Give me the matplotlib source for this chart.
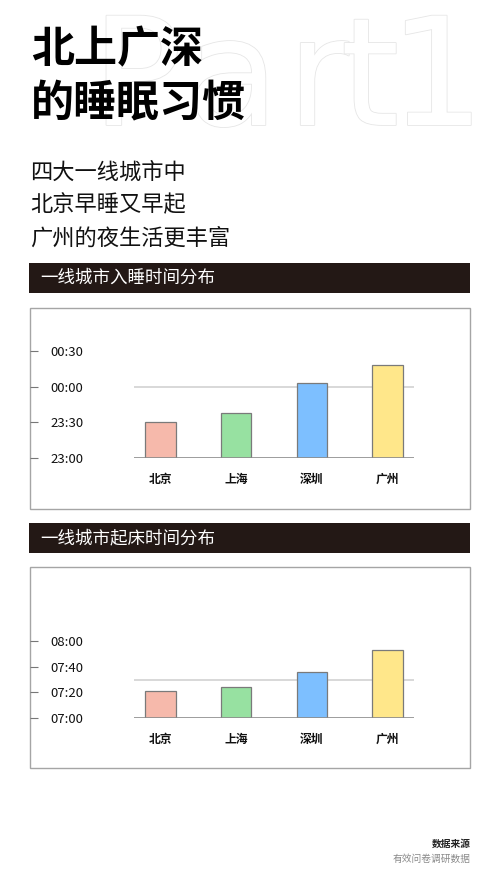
import matplotlib.pyplot as plt
from matplotlib.patches import Rectangle
import matplotlib.patheffects as pe

# --- 数据 ---
cities = ['北京', '上海', '深圳', '广州']
bar_colors = ['#f6b9ab', '#97e1a1', '#7dbfff', '#ffe78a']

# 入睡时间: 23:00 之后的分钟数
sleep_minutes = [30, 38, 63, 78]
sleep_ticks = [0, 30, 60, 90]
sleep_tick_labels = ['23:00', '23:30', '00:00', '00:30']
sleep_ref = 60

# 起床时间: 07:00 之后的分钟数
wake_minutes = [21, 24, 36, 53]
wake_ticks = [0, 20, 40, 60]
wake_tick_labels = ['07:00', '07:20', '07:40', '08:00']
wake_ref = 30

plt.rcParams['font.family'] = ['Noto Sans CJK SC', 'DejaVu Sans']

W, H = 500, 888
fig = plt.figure(figsize=(W / 100, H / 100), dpi=100)
fig.patch.set_facecolor('white')


def px(x0, y0, x1, y1):
    # 像素坐标 -> figure 坐标
    return [x0 / W, 1 - y1 / H, (x1 - x0) / W, (y1 - y0) / H]


# 背景层 (像素坐标)
bg = fig.add_axes([0, 0, 1, 1])
bg.set_xlim(0, W)
bg.set_ylim(H, 0)
bg.axis('off')

# 背景大字 Part1 (空心)
for ch, x in zip('Part1', [137, 233, 318, 370, 437]):
    bg.text(x, 125, ch, fontsize=108, family='DejaVu Sans',
            color='white', va='baseline', ha='center', zorder=1,
            path_effects=[pe.withStroke(linewidth=1.2, foreground='#e6e6e6')])

# 标题
bg.text(31, 49, '北上广深', fontsize=31, fontweight='bold', color='black',
        va='center', ha='left', zorder=3)
bg.text(31, 103, '的睡眠习惯', fontsize=31, fontweight='bold', color='black',
        va='center', ha='left', zorder=3)

# 副标题
for y, line in zip([172, 205, 238], ['四大一线城市中', '北京早睡又早起', '广州的夜生活更丰富']):
    bg.text(30, y, line, fontsize=16, color='#111111', va='center', ha='left')

# 标题条 + 边框
for top, title in [(263, '一线城市入睡时间分布'), (523, '一线城市起床时间分布')]:
    bg.add_patch(Rectangle((29, top), 441, 30, facecolor='#231815', edgecolor='none'))
    bg.text(40, top + 15, title, fontsize=12.6, color='white', va='center', ha='left')

bg.add_patch(Rectangle((30, 308), 440, 201, facecolor='white', edgecolor='#a5a5a5', lw=1))
bg.add_patch(Rectangle((30, 567), 440, 201, facecolor='white', edgecolor='#a5a5a5', lw=1))

# 数据来源
bg.text(471, 844, '数据来源', fontsize=7, fontweight='bold', color='#222222',
        va='center', ha='right')
bg.text(471, 859, '有效问卷调研数据', fontsize=7, color='#8a8a8a', va='center', ha='right')


def draw_chart(rect, values, ticks, tick_labels, ref, ymax):
    ax = fig.add_axes(px(*rect))
    ax.patch.set_alpha(0)
    ax.bar(range(len(values)), values, width=0.4, color=bar_colors,
           edgecolor='#7a7a7a', linewidth=0.9, zorder=3)
    ax.axhline(ref, color='#d2d2d2', lw=1.2, zorder=1)
    ax.axhline(0, color='#8c8c8c', lw=1.2, zorder=4)
    ax.set_xlim(-0.35, len(values) - 0.65)
    ax.set_ylim(0, ymax)
    for s in ['top', 'left', 'bottom', 'right']:
        ax.spines[s].set_visible(False)
    # 左侧刻度 (右轴挪到边框处, 刻度向右)
    width_px = rect[2] - rect[0]
    ax.yaxis.tick_right()
    ax.spines['right'].set_position(('axes', (30 - rect[0]) / width_px))
    ax.set_yticks(ticks)
    ax.set_yticklabels(tick_labels)
    ax.tick_params(axis='y', direction='out', length=6, width=0.8, color='#777777',
                   pad=9, labelsize=9.5, labelcolor='#111111')
    ax.set_xticks(range(len(values)))
    ax.set_xticklabels(cities, fontweight='bold')
    ax.tick_params(axis='x', length=0, pad=11, labelsize=8.5, labelcolor='#111111')
    return ax


draw_chart((134, 339, 414, 458), sleep_minutes, sleep_ticks, sleep_tick_labels,
           sleep_ref, 100)
draw_chart((134, 622, 414, 718), wake_minutes, wake_ticks, wake_tick_labels,
           wake_ref, 75)

fig.savefig('out.png', dpi=100, facecolor='white')
